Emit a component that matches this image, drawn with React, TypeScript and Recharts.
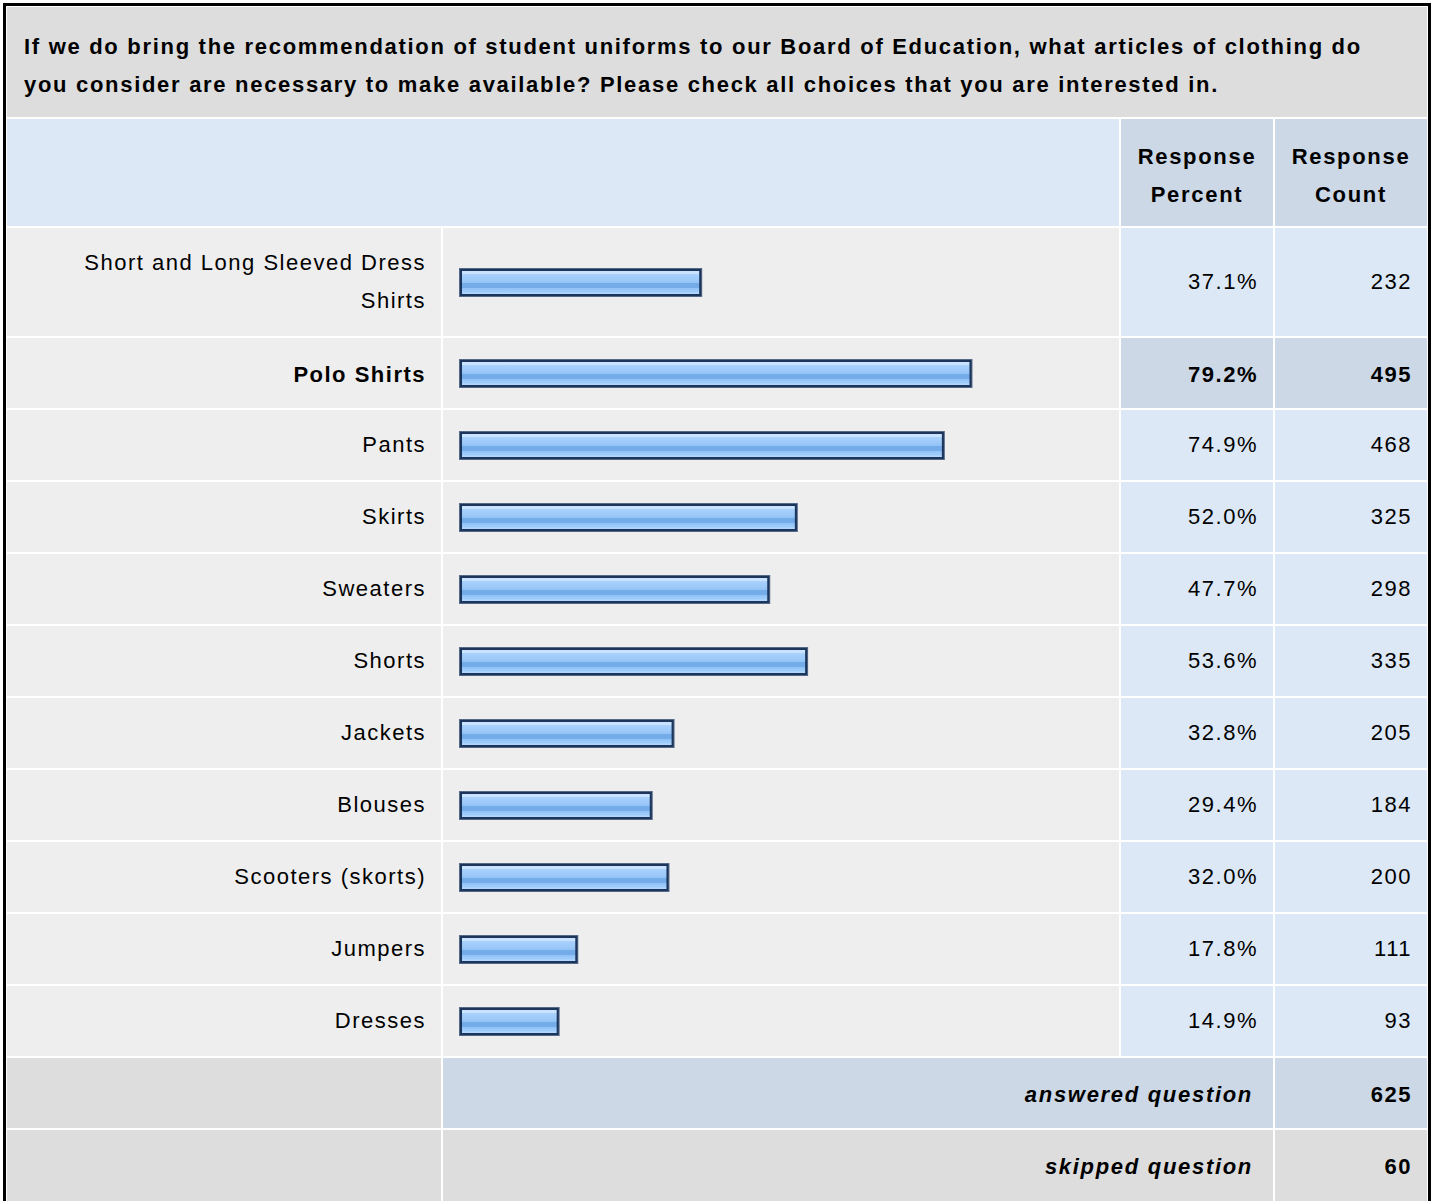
import React from "react";
import { BarChart, Bar, XAxis, YAxis } from "recharts";

// survey question
const QUESTION =
  "If we do bring the recommendation of student uniforms to our Board of Education, what articles of clothing do you consider are necessary to make available? Please check all choices that you are interested in.";

const CHOICES = [
  "Short and Long Sleeved Dress Shirts",
  "Polo Shirts",
  "Pants",
  "Skirts",
  "Sweaters",
  "Shorts",
  "Jackets",
  "Blouses",
  "Scooters (skorts)",
  "Jumpers",
  "Dresses",
];

const PERCENTS = [37.1, 79.2, 74.9, 52.0, 47.7, 53.6, 32.8, 29.4, 32.0, 17.8, 14.9];
const COUNTS = [232, 495, 468, 325, 298, 335, 205, 184, 200, 111, 93];

const ANSWERED = 625;
const SKIPPED = 60;

const FONT = '"Liberation Sans", Arial, Helvetica, sans-serif';
const GAP = 2;
const COLS = [434, 676, 152, 152];

const GREY = "#dddddd";
const ROW_BG = "#eeeeee";
const LIGHT_BLUE = "#dce8f6";
const MID_BLUE = "#ccd8e6";

// highlight the most picked choice like the survey tool does
const maxIdx = PERCENTS.indexOf(Math.max(...PERCENTS));

function GlassBar(props: any) {
  const { x, y, width, height, gid } = props;
  const w = width + 5;
  return (
    <g>
      <rect x={x} y={y} width={w} height={height} fill="#55698a" />
      <rect x={x + 1} y={y + 1} width={w - 2} height={height - 2} fill="#1c355a" />
      <rect x={x + 3} y={y + 3} width={w - 6} height={height - 6} fill={`url(#${gid})`} />
    </g>
  );
}

function BarRow({ idx, height }: { idx: number; height: number }) {
  const gid = `glass-${idx}`;
  const data = [{ name: CHOICES[idx], value: PERCENTS[idx] }];
  return (
    <BarChart
      width={COLS[1]}
      height={height}
      data={data}
      layout="vertical"
      margin={{ top: 0, right: 18, bottom: 0, left: 16 }}
    >
      <defs>
        <linearGradient id={gid} x1="0" y1="0" x2="0" y2="1">
          <stop offset="0%" stopColor="#c9e2fe" />
          <stop offset="14%" stopColor="#c9e2fe" />
          <stop offset="14%" stopColor="#a9d1fb" />
          <stop offset="36%" stopColor="#9dcaf9" />
          <stop offset="52%" stopColor="#93c3f6" />
          <stop offset="52%" stopColor="#74abe9" />
          <stop offset="72%" stopColor="#74abe9" />
          <stop offset="72%" stopColor="#8fc0f6" />
          <stop offset="88%" stopColor="#9ccbfa" />
          <stop offset="100%" stopColor="#b6d8fc" />
        </linearGradient>
      </defs>
      <XAxis type="number" domain={[0, 100]} hide />
      <YAxis type="category" dataKey="name" hide />
      <Bar
        dataKey="value"
        barSize={29}
        isAnimationActive={false}
        shape={(p: any) => <GlassBar {...p} gid={gid} />}
      />
    </BarChart>
  );
}

const cell = (bg: string, extra: React.CSSProperties = {}): React.CSSProperties => ({
  background: bg,
  boxSizing: "border-box",
  display: "flex",
  alignItems: "center",
  justifyContent: "flex-end",
  paddingRight: 15,
  textAlign: "right",
  lineHeight: "38px",
  letterSpacing: 1.5,
  ...extra,
});

const headCell: React.CSSProperties = {
  justifyContent: "center",
  paddingRight: 0,
  paddingTop: 6,
  textAlign: "center",
  fontWeight: "bold",
  letterSpacing: 1.7,
};

export default function App() {
  const rowHeights = CHOICES.map((_, i) => (i === 0 ? 108 : 70));
  const gridRows = [110, 107, ...rowHeights, 70, 80].map((h) => `${h}px`).join(" ");

  return (
    <div
      style={{
        position: "absolute",
        left: 3,
        top: 3,
        width: 1428,
        height: 1210,
        boxSizing: "border-box",
        border: "3px solid #000",
        background: "#fff",
        padding: 1,
        fontFamily: FONT,
        fontSize: 22,
        color: "#000",
        overflow: "hidden",
      }}
    >
      <div
        style={{
          display: "grid",
          gridTemplateColumns: COLS.map((c) => `${c}px`).join(" "),
          gridTemplateRows: gridRows,
          gap: GAP,
        }}
      >
        {/* question title */}
        <div
          style={{
            gridColumn: "1 / 5",
            background: GREY,
            padding: "21px 17px 0 17px",
            fontWeight: "bold",
            fontSize: 22,
            lineHeight: "38px",
            letterSpacing: 1.7,
          }}
        >
          {QUESTION}
        </div>

        {/* header */}
        <div style={{ gridColumn: "1 / 3", background: LIGHT_BLUE }} />
        <div style={cell(MID_BLUE, headCell)}>
          Response<br />Percent
        </div>
        <div style={cell(MID_BLUE, headCell)}>
          Response<br />Count
        </div>

        {/* answer rows */}
        {CHOICES.map((name, i) => {
          const hi = i === maxIdx;
          const bg = hi ? MID_BLUE : LIGHT_BLUE;
          const fw = hi ? "bold" : "normal";
          const pt = hi ? 4 : 0;
          return (
            <React.Fragment key={name}>
              <div style={cell(ROW_BG, { fontWeight: fw, paddingLeft: 50, paddingTop: pt })}>{name}</div>
              <div style={{ background: ROW_BG }}>
                <BarRow idx={i} height={rowHeights[i]} />
              </div>
              <div style={cell(bg, { fontWeight: fw, paddingTop: pt })}>{PERCENTS[i].toFixed(1)}%</div>
              <div style={cell(bg, { fontWeight: fw, paddingTop: pt })}>{COUNTS[i]}</div>
            </React.Fragment>
          );
        })}

        {/* totals */}
        <div style={{ background: GREY }} />
        <div style={cell(MID_BLUE, { gridColumn: "2 / 4", fontWeight: "bold", fontStyle: "italic", paddingRight: 20, paddingTop: 4, letterSpacing: 1.7 })}>
          answered question
        </div>
        <div style={cell(MID_BLUE, { fontWeight: "bold", paddingTop: 4 })}>{ANSWERED}</div>

        <div style={{ background: GREY }} />
        <div style={cell(GREY, { gridColumn: "2 / 4", fontWeight: "bold", fontStyle: "italic", paddingRight: 20, alignItems: "flex-start", paddingTop: 18, letterSpacing: 1.7 })}>
          skipped question
        </div>
        <div style={cell(GREY, { fontWeight: "bold", alignItems: "flex-start", paddingTop: 18 })}>{SKIPPED}</div>
      </div>
    </div>
  );
}
